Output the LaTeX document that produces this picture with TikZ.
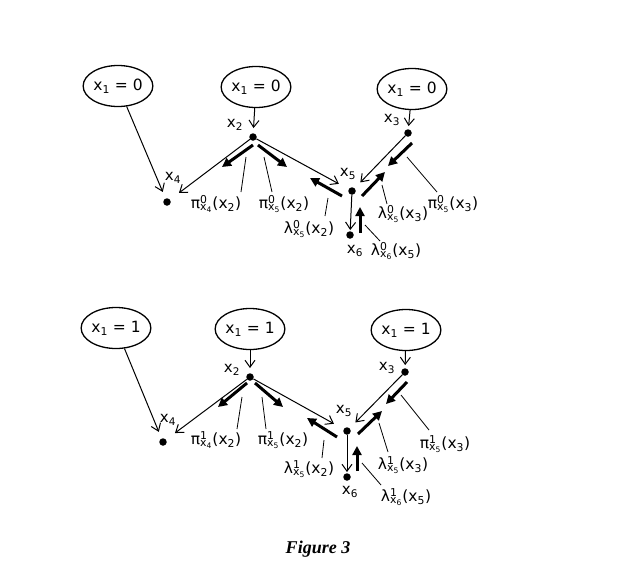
\documentclass[tikz,border=0pt]{standalone}
\usepackage{fontspec}
\setmainfont{DejaVu Sans}
\newfontfamily\capfont{Liberation Serif}
\usetikzlibrary{arrows.meta,shapes.geometric}
\newcommand\msg[4]{#1\rlap{\textsuperscript{#2}}\textsubscript{x\textsubscript{#3}}(x\textsubscript{#4})}
\newcommand\xv[1]{x\textsubscript{#1}}
\begin{document}
\begin{tikzpicture}[x=1pt,y=-1pt,
  obs/.style={ellipse,draw,line width=1.3pt,minimum width=63pt,minimum height=41pt,inner sep=0pt,font=\fontsize{15.5}{15.5}\selectfont},
  dot/.style={circle,fill,minimum size=7.5pt,inner sep=0pt},
  edge/.style={-{Straight Barb[length=7pt,width=10pt,line width=1pt]},line width=1pt},
  msgarrow/.style={-{Triangle[length=9pt,width=9pt]},line width=3pt},
  leader/.style={line width=0.8pt},
  vlab/.style={font=\fontsize{15}{15}\selectfont,inner sep=0pt},
  mlab/.style={font=\fontsize{15.5}{15.5}\selectfont,inner sep=0pt}]
\useasboundingbox[fill=white] (0,0) rectangle (640,581);

% ---------------- top diagram ----------------
\node[obs] (tA) at (118,86) {\xv{1} = 0};
\node[obs] (tB) at (256,87) {\xv{1} = 0};
\node[obs] (tC) at (412,89) {\xv{1} = 0};
\node[dot] (t2) at (253,137) {};
\node[dot] (t3) at (408,133) {};
\node[dot] (t4) at (167,202) {};
\node[dot] (t5) at (352,191) {};
\node[dot] (t6) at (350,235) {};
\node[vlab] (t2l) at (235,125) {\xv{2}};
\node[vlab] (t3l) at (392,120) {\xv{3}};
\node[vlab] (t4l) at (173,178) {\xv{4}};
\node[vlab] (t5l) at (348,174) {\xv{5}};
\node[vlab] (t6l) at (355,251) {\xv{6}};

\draw[edge,shorten >=7pt] (tA) -- (t4);
\draw[edge,shorten >=5pt] (tB) -- (t2);
\draw[edge,shorten >=3pt] (tC) -- (t3);
\draw[edge,shorten >=11pt] (t2) -- (t4);
\draw[edge,shorten >=11pt] (t2) -- (t5);
\draw[edge,shorten >=8pt] (t3) -- (t5);
\draw[edge,shorten >=1pt] (t5) -- (t6);

\coordinate (tm1s) at (253,145); \coordinate (tm1e) at (222,167);
\coordinate (tm2s) at (258,145); \coordinate (tm2e) at (287,167);
\coordinate (tm3s) at (342,196); \coordinate (tm3e) at (310,178);
\coordinate (tm4s) at (412,143); \coordinate (tm4e) at (388,166);
\coordinate (tm5s) at (362,196); \coordinate (tm5e) at (385,172);
\coordinate (tm6s) at (360,233); \coordinate (tm6e) at (360,207);
\draw[msgarrow] (tm1s) -- (tm1e);
\draw[msgarrow] (tm2s) -- (tm2e);
\draw[msgarrow] (tm3s) -- (tm3e);
\draw[msgarrow] (tm4s) -- (tm4e);
\draw[msgarrow] (tm5s) -- (tm5e);
\draw[msgarrow] (tm6s) -- (tm6e);

\node[mlab] (tl1) at (216,204) {\msg{π}{0}{4}{2}};
\node[mlab] (tl2) at (284,204) {\msg{π}{0}{5}{2}};
\node[mlab] (tl3) at (309,229) {\msg{λ}{0}{5}{2}};
\node[mlab] (tl4) at (403,214) {\msg{λ}{0}{5}{3}};
\node[mlab] (tl5) at (453,204) {\msg{π}{0}{5}{3}};
\node[mlab] (tl6) at (396,251) {\msg{λ}{0}{6}{5}};
\coordinate (tq1a) at (246,157); \coordinate (tq1b) at (241,192);
\coordinate (tq2a) at (264,157); \coordinate (tq2b) at (272,192);
\coordinate (tq3a) at (328,198); \coordinate (tq3b) at (325,216);
\coordinate (tq4a) at (382,185); \coordinate (tq4b) at (387,204);
\coordinate (tq5a) at (407,157); \coordinate (tq5b) at (437,192);
\coordinate (tq6a) at (365,225); \coordinate (tq6b) at (380,241);
\draw[leader] (tq1a) -- (tq1b);
\draw[leader] (tq2a) -- (tq2b);
\draw[leader] (tq3a) -- (tq3b);
\draw[leader] (tq4a) -- (tq4b);
\draw[leader] (tq5a) -- (tq5b);
\draw[leader] (tq6a) -- (tq6b);

% ---------------- bottom diagram ----------------
\node[obs] (bA) at (116,328) {\xv{1} = 1};
\node[obs] (bB) at (250,329) {\xv{1} = 1};
\node[obs] (bC) at (406,330) {\xv{1} = 1};
\node[dot] (b2) at (250,377) {};
\node[dot] (b3) at (405,372) {};
\node[dot] (b4) at (163,442) {};
\node[dot] (b5) at (347,431) {};
\node[dot] (b6) at (347,477) {};
\node[vlab] (b2l) at (232,370) {\xv{2}};
\node[vlab] (b3l) at (387,368) {\xv{3}};
\node[vlab] (b4l) at (168,420) {\xv{4}};
\node[vlab] (b5l) at (344,411) {\xv{5}};
\node[vlab] (b6l) at (350,492) {\xv{6}};

\draw[edge,shorten >=7pt] (bA) -- (b4);
\draw[edge,shorten >=5pt] (bB) -- (b2);
\draw[edge,shorten >=3pt] (bC) -- (b3);
\draw[edge,shorten >=11pt] (b2) -- (b4);
\draw[edge,shorten >=11pt] (b2) -- (b5);
\draw[edge,shorten >=8pt] (b3) -- (b5);
\draw[edge,shorten >=1pt] (b5) -- (b6);

\coordinate (bm1s) at (247,383); \coordinate (bm1e) at (218,407);
\coordinate (bm2s) at (255,383); \coordinate (bm2e) at (283,407);
\coordinate (bm3s) at (337,437); \coordinate (bm3e) at (307,418);
\coordinate (bm4s) at (407,382); \coordinate (bm4e) at (386,404);
\coordinate (bm5s) at (358,434); \coordinate (bm5e) at (382,411);
\coordinate (bm6s) at (357,471); \coordinate (bm6e) at (357,446);
\draw[msgarrow] (bm1s) -- (bm1e);
\draw[msgarrow] (bm2s) -- (bm2e);
\draw[msgarrow] (bm3s) -- (bm3e);
\draw[msgarrow] (bm4s) -- (bm4e);
\draw[msgarrow] (bm5s) -- (bm5e);
\draw[msgarrow] (bm6s) -- (bm6e);

\node[mlab] (bl1) at (216,440) {\msg{π}{1}{4}{2}};
\node[mlab] (bl2) at (283,440) {\msg{π}{1}{5}{2}};
\node[mlab] (bl3) at (309,469) {\msg{λ}{1}{5}{2}};
\node[mlab] (bl4) at (403,465) {\msg{λ}{1}{5}{3}};
\node[mlab] (bl5) at (445,444) {\msg{π}{1}{5}{3}};
\node[mlab] (bl6) at (406,497) {\msg{λ}{1}{6}{5}};
\coordinate (bq1a) at (242,397); \coordinate (bq1b) at (237,429);
\coordinate (bq2a) at (262,397); \coordinate (bq2b) at (266,429);
\coordinate (bq3a) at (324,440); \coordinate (bq3b) at (322,458);
\coordinate (bq4a) at (379,423); \coordinate (bq4b) at (388,452);
\coordinate (bq5a) at (401,395); \coordinate (bq5b) at (429,430);
\coordinate (bq6a) at (362,463); \coordinate (bq6b) at (381,485);
\draw[leader] (bq1a) -- (bq1b);
\draw[leader] (bq2a) -- (bq2b);
\draw[leader] (bq3a) -- (bq3b);
\draw[leader] (bq4a) -- (bq4b);
\draw[leader] (bq5a) -- (bq5b);
\draw[leader] (bq6a) -- (bq6b);

\node[font=\capfont\fontsize{18}{18}\selectfont\bfseries\itshape] (cap) at (318,549) {Figure 3};
\end{tikzpicture}
\end{document}
